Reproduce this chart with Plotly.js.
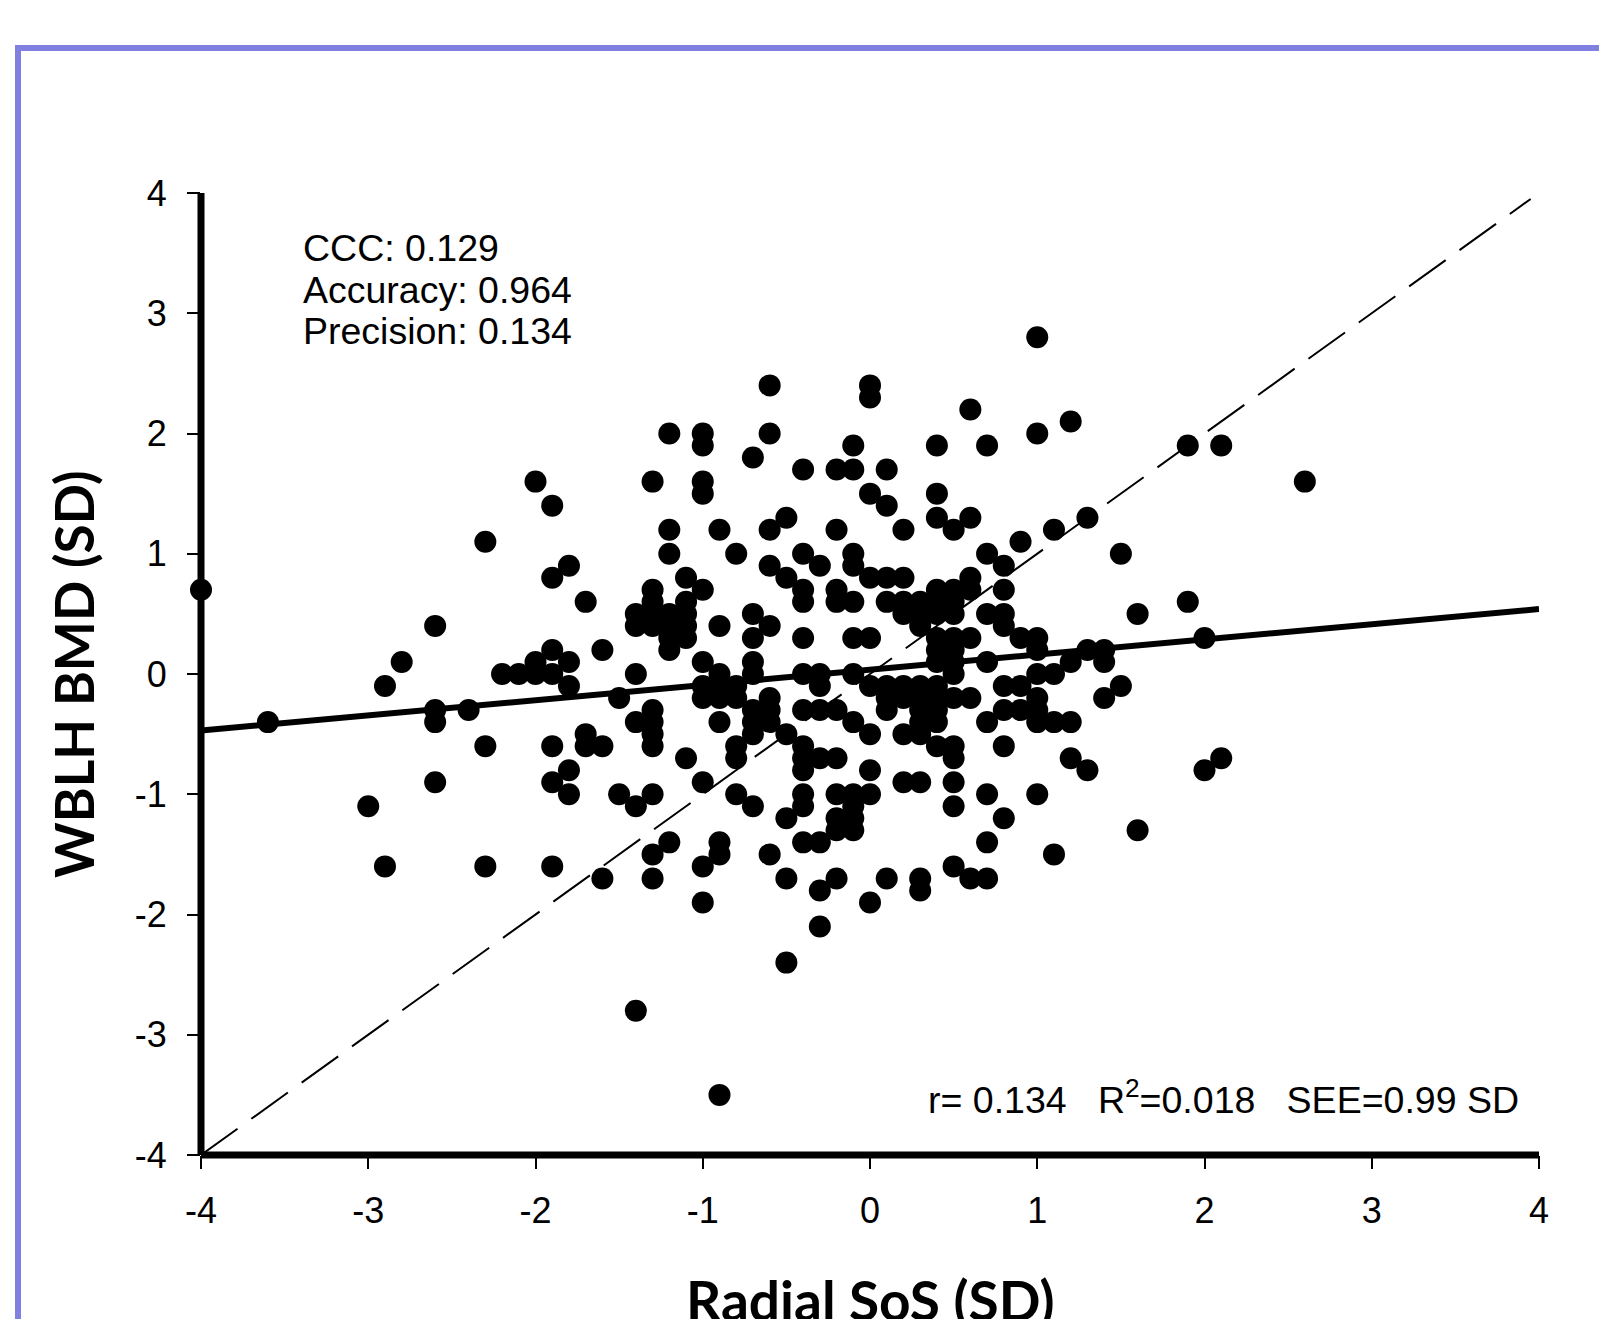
<!DOCTYPE html>
<html>
<head>
<meta charset="utf-8">
<script src="https://cdn.plot.ly/plotly-3.0.1.min.js"></script>
<style>
  html, body { margin: 0; padding: 0; background: #ffffff; overflow: hidden; }
  #wrap { position: relative; width: 1599px; height: 1319px; }
  #chart { position: absolute; left: 0; top: 0; width: 1599px; height: 1319px; }
  #frame { position: absolute; left: 15px; top: 45px; width: 1700px; height: 1400px;
           border-left: 6px solid #8080e0; border-top: 6px solid #8080e0; pointer-events: none; }
</style>
</head>
<body>
<div id="wrap">
  <div id="chart"></div>
  <div id="frame"></div>
</div>
<script>
// Radial SoS (SD) column values and the WBLH BMD (SD) values observed at each
const sosColumns = [-4.0, -3.6, -3.0, -2.9, -2.8, -2.6, -2.4, -2.3, -2.2, -2.1, -2.0, -1.9, -1.8, -1.7, -1.6, -1.5,
  -1.4, -1.3, -1.2, -1.1, -1.0, -0.9, -0.8, -0.7, -0.6, -0.5, -0.4, -0.3, -0.2, -0.1, 0.0, 0.1, 0.2, 0.3, 0.4, 0.5,
  0.6, 0.7, 0.8, 0.9, 1.0, 1.1, 1.2, 1.3, 1.4, 1.5, 1.6, 1.9, 2.0, 2.1, 2.6];

const bmdByColumn = [
  [0.7],
  [-0.4],
  [-1.1],
  [-0.1, -1.6],
  [0.1],
  [0.4, -0.3, -0.4, -0.9],
  [-0.3],
  [1.1, -0.6, -1.6],
  [0.0],
  [0.0],
  [1.6, 0.1, 0.0],
  [1.4, 0.8, 0.2, 0.0, -0.6, -0.9, -1.6],
  [0.9, 0.1, -0.1, -0.8, -1.0],
  [0.6, -0.5, -0.6],
  [0.2, -0.6, -1.7],
  [-0.2, -1.0],
  [0.5, 0.4, 0.0, -0.4, -1.1, -2.8],
  [1.6, 0.7, 0.6, 0.5, 0.4, -0.3, -0.4, -0.5, -0.6, -1.0, -1.5, -1.7],
  [2.0, 1.2, 1.0, 0.5, 0.4, 0.3, 0.2, -1.4],
  [0.8, 0.6, 0.5, 0.4, 0.3, -0.7],
  [2.0, 1.9, 1.6, 1.5, 0.7, 0.1, -0.1, -0.2, -0.9, -1.6, -1.9],
  [1.2, 0.4, 0.0, -0.1, -0.2, -0.4, -1.4, -1.5, -3.5],
  [1.0, -0.1, -0.2, -0.6, -0.7, -1.0],
  [1.8, 0.5, 0.3, 0.1, 0.0, -0.3, -0.4, -0.5, -1.1],
  [2.4, 2.0, 1.2, 0.9, 0.4, -0.2, -0.3, -0.4, -1.5],
  [1.3, 0.8, -0.5, -1.2, -1.7, -2.4],
  [1.7, 1.0, 0.7, 0.6, 0.3, 0.0, -0.3, -0.6, -0.7, -0.8, -1.0, -1.1, -1.4],
  [0.9, 0.0, -0.1, -0.3, -0.7, -1.4, -1.8, -2.1],
  [1.7, 1.2, 0.7, 0.6, -0.3, -0.7, -1.0, -1.2, -1.3, -1.7],
  [1.9, 1.7, 1.0, 0.9, 0.6, 0.3, 0.0, -0.4, -1.0, -1.1, -1.2, -1.3],
  [2.4, 2.3, 1.5, 0.8, 0.3, -0.1, -0.5, -0.8, -1.0, -1.9],
  [1.7, 1.4, 0.8, 0.6, -0.1, -0.2, -0.3, -1.7],
  [1.2, 0.8, 0.6, 0.5, -0.1, -0.2, -0.5, -0.9],
  [0.6, 0.5, 0.4, -0.1, -0.2, -0.3, -0.4, -0.5, -0.9, -1.7, -1.8],
  [1.9, 1.5, 1.3, 0.7, 0.6, 0.5, 0.3, 0.2, 0.1, -0.1, -0.2, -0.3, -0.4, -0.6],
  [1.2, 0.7, 0.6, 0.5, 0.3, 0.2, 0.1, 0.0, -0.2, -0.6, -0.7, -0.9, -1.1, -1.6],
  [2.2, 1.3, 0.8, 0.7, 0.3, -0.2, -1.7],
  [1.9, 1.0, 0.5, 0.1, -0.4, -1.0, -1.4, -1.7],
  [0.9, 0.7, 0.5, 0.4, -0.1, -0.3, -0.6, -1.2],
  [1.1, 0.3, -0.1, -0.3],
  [2.8, 2.0, 0.3, 0.2, 0.0, -0.2, -0.3, -0.4, -1.0],
  [1.2, 0.0, -0.4, -1.5],
  [2.1, 0.1, -0.4, -0.7],
  [1.3, 0.2, -0.8],
  [0.2, 0.1, -0.2],
  [1.0, -0.1],
  [0.5, -1.3],
  [1.9, 0.6],
  [0.3, -0.8],
  [1.9, -0.7],
  [1.6]
];

// Regression line end points and line of identity
const fitX = [-4, 4];
const fitY = [-0.47, 0.54];
const identityX = [-4, 3.95];
const identityY = [-4, 3.95];

const tickValues = [-4, -3, -2, -1, 0, 1, 2, 3, 4];
const tickLabels = ['-4', '-3', '-2', '-1', '0', '1', '2', '3', '4'];

const statsTopLeft = ['CCC: 0.129', 'Accuracy: 0.964', 'Precision: 0.134'];
const statsBottom = 'r= 0.134\u00a0\u00a0\u00a0R<sup>2</sup>=0.018\u00a0\u00a0\u00a0SEE=0.99 SD';

// flatten to point lists
const pointsX = [];
const pointsY = [];
sosColumns.forEach((xv, i) => {
  bmdByColumn[i].forEach(yv => { pointsX.push(xv); pointsY.push(yv); });
});

const tickFont = { family: 'Liberation Sans, Arial, sans-serif', size: 36, color: '#000000' };
const noteFont = { family: 'Liberation Sans, Arial, sans-serif', size: 37.5, color: '#000000' };
const xTitleFont = { family: 'Lato, Open Sans, sans-serif', size: 55, color: '#000000', weight: 'bold' };
const yTitleFont = { family: 'Lato, Open Sans, sans-serif', size: 53, color: '#000000', weight: 'bold' };

const traces = [
  {
    x: identityX, y: identityY, mode: 'lines', type: 'scatter',
    line: { color: '#000000', width: 2, dash: '45px,17px' },
    hoverinfo: 'skip', cliponaxis: false
  },
  {
    x: pointsX, y: pointsY, mode: 'markers', type: 'scatter',
    marker: { color: '#000000', size: 22, line: { width: 0 } },
    cliponaxis: false
  },
  {
    x: fitX, y: fitY, mode: 'lines', type: 'scatter',
    line: { color: '#000000', width: 6 },
    cliponaxis: false
  }
];

const annotations = [];
const topYs = [3.54, 3.19, 2.85];
statsTopLeft.forEach((t, i) => {
  annotations.push({
    text: t, xref: 'x', yref: 'y', x: -3.405, y: topYs[i], xanchor: 'left', yanchor: 'middle',
    showarrow: false, font: noteFont
  });
});
annotations.push({
  text: statsBottom, xref: 'x', yref: 'y', x: 3.89, y: -3.52, xanchor: 'right', yanchor: 'middle',
  showarrow: false, font: noteFont
});
annotations.push({
  text: 'Radial SoS (SD)', xref: 'paper', yref: 'paper', x: 0.5, y: -0.114, xanchor: 'center', yanchor: 'top',
  showarrow: false, font: xTitleFont
});
annotations.push({
  text: 'WBLH BMD (SD)', xref: 'paper', yref: 'paper', x: -0.0957, y: 0.5, xanchor: 'center', yanchor: 'middle',
  textangle: -90, showarrow: false, font: yTitleFont
});

// thick axis lines centred on the plot-area edges (as in the original chart)
const axisLineStyle = { color: '#000000', width: 7 };
const shapes = [
  { type: 'line', xref: 'paper', yref: 'paper', x0: 0, x1: 0, y0: 0, y1: 1, line: axisLineStyle, layer: 'above' },
  { type: 'line', xref: 'paper', yref: 'paper', x0: 0, x1: 1, y0: 0, y1: 0, line: axisLineStyle, layer: 'above' }
];

const axisCommon = {
  range: [-4, 4], tickmode: 'array', tickvals: tickValues, ticktext: tickLabels,
  ticks: 'outside', ticklen: 13, tickwidth: 2, tickcolor: '#000000',
  showline: false,
  showgrid: false, zeroline: false, tickfont: tickFont, fixedrange: true
};

const layout = {
  width: 1599, height: 1319,
  margin: { l: 201, r: 60, t: 193, b: 164 },
  paper_bgcolor: '#ffffff', plot_bgcolor: '#ffffff',
  showlegend: false,
  xaxis: Object.assign({}, axisCommon, { ticklabelstandoff: 11 }),
  yaxis: Object.assign({}, axisCommon, { ticklabelstandoff: 13 }),
  shapes: shapes,
  annotations: annotations
};

Plotly.newPlot('chart', traces, layout, { staticPlot: true, displayModeBar: false });
</script>
</body>
</html>
